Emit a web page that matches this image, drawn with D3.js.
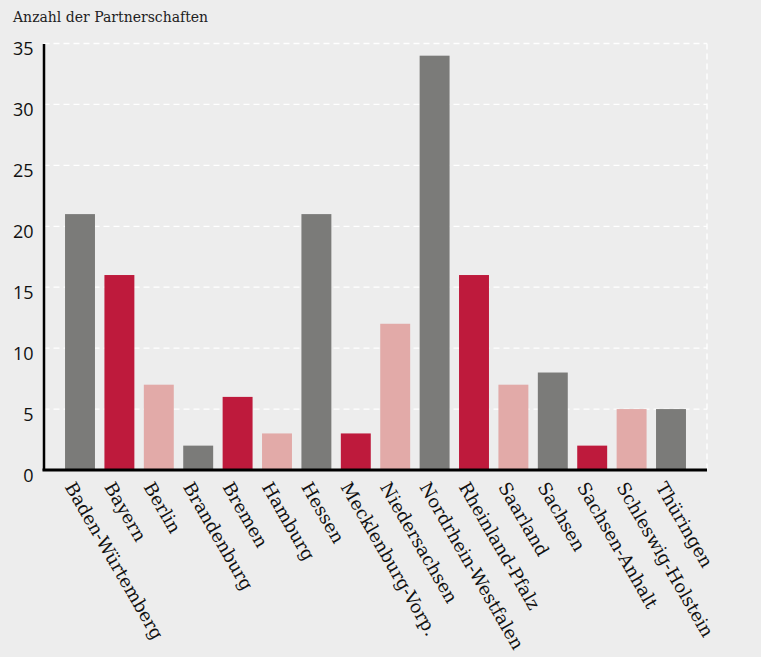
<!DOCTYPE html>
<html>
<head>
<meta charset="utf-8">
<script src="https://cdn.jsdelivr.net/npm/d3@7"></script>
<style>
  html, body { margin: 0; padding: 0; background: #ffffff; }
  svg { display: block; }
</style>
</head>
<body>
<script>
const categories = ["Baden-Würtemberg", "Bayern", "Berlin", "Brandenburg", "Bremen", "Hamburg", "Hessen", "Mecklenburg-Vorp.", "Niedersachsen", "Nordrhein-Westfalen", "Rheinland-Pfalz", "Saarland", "Sachsen", "Sachsen-Anhalt", "Schleswig-Holstein", "Thüringen"];
const values = [21, 16, 7, 2, 6, 3, 21, 3, 12, 34, 16, 7, 8, 2, 5, 5];
const palette = ["#7b7b79", "#be1a3c", "#e2aaa8"];
const yTicks = [0, 5, 10, 15, 20, 25, 30, 35];
const title = "Anzahl der Partnerschaften";

const W = 769, H = 657;
const svg = d3.select("body").append("svg").attr("width", W).attr("height", H);
svg.append("rect").attr("x", 0).attr("y", 0).attr("width", 761).attr("height", H).attr("fill", "#ededed");

const plotLeft = 43.5, plotRight = 707, plotTop = 43.5, plotBottom = 470;
const x = d3.scaleBand().domain(categories).range([60.3, 690.7]).paddingInner(0.24).paddingOuter(0.12);
const y = d3.scaleLinear().domain([0, 35]).range([plotBottom, plotTop]);

// gridlines
svg.append("g").selectAll("line").data(yTicks.filter(d => d > 0)).join("line")
  .attr("x1", plotLeft).attr("x2", plotRight)
  .attr("y1", d => y(d)).attr("y2", d => y(d))
  .attr("stroke", "#ffffff").attr("stroke-width", 1.3).attr("stroke-dasharray", "6,4");
svg.append("line").attr("x1", plotRight).attr("x2", plotRight).attr("y1", plotTop).attr("y2", plotBottom)
  .attr("stroke", "#ffffff").attr("stroke-width", 1.3).attr("stroke-dasharray", "6,4");

// bars
svg.append("g").selectAll("rect").data(values).join("rect")
  .attr("x", (d, i) => x(categories[i]))
  .attr("width", x.bandwidth())
  .attr("y", d => y(d))
  .attr("height", d => y(0) - y(d))
  .attr("fill", (d, i) => palette[i % 3]);

// y axis
const yAxis = svg.append("g").attr("transform", `translate(${plotLeft},0)`)
  .call(d3.axisLeft(y).tickValues(yTicks).tickSize(0).tickPadding(10));
yAxis.select(".domain").attr("stroke", "#000").attr("stroke-width", 2.5);
yAxis.selectAll("text").attr("font-family", "'Open Sans', sans-serif").attr("font-size", 18).attr("fill", "#111")
  .attr("dy", "0.62em");

// x axis
const xAxis = svg.append("g").attr("transform", `translate(0,${plotBottom})`)
  .call(d3.axisBottom(x).tickSize(0).tickPadding(0));
xAxis.select(".domain").attr("d", `M${plotLeft - 1},0H${plotRight}`).attr("stroke", "#000").attr("stroke-width", 3);
xAxis.selectAll("text")
  .attr("font-family", "'DejaVu Serif', serif").attr("font-size", 18).attr("fill", "#111")
  .attr("text-anchor", "start")
  .attr("transform", "translate(-4,10) rotate(60)")
  .attr("dy", "0.75em").attr("y", 0).attr("x", 0);

svg.append("text").attr("x", 13).attr("y", 22).text(title)
  .attr("font-family", "'DejaVu Serif', serif").attr("font-size", 14).attr("fill", "#222");
</script>
</body>
</html>
